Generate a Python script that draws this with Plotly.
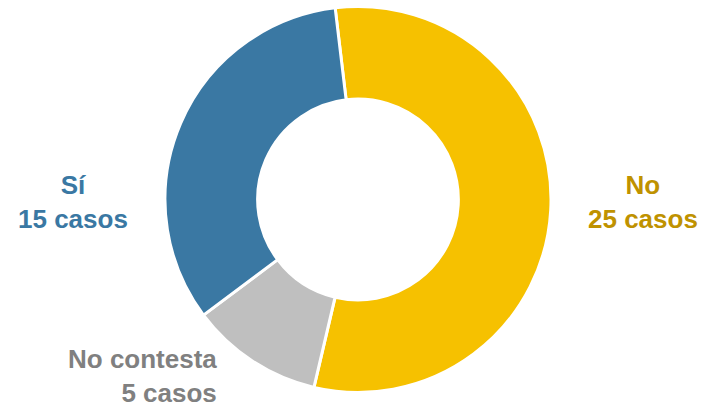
import plotly.graph_objects as go

labels = ["No", "No contesta", "Sí"]
values = [25, 5, 15]
slice_colors = ["#F6C100", "#BFBFBF", "#3A78A3"]
text_colors = ["#BF9200", "#808080", "#3A78A3"]

W, H = 715, 406

fig = go.Figure(go.Pie(
    labels=labels,
    values=values,
    sort=False,
    direction="clockwise",
    rotation=-6.8,
    hole=0.52,
    marker=dict(colors=slice_colors, line=dict(color="white", width=3)),
    textinfo="none",
    hoverinfo="label+value",
    showlegend=False,
    domain=dict(x=[165 / W, 551 / W], y=[(H - 392.5) / H, (H - 6.5) / H]),
))

# label placement (pixel positions), text built from the data
label_pos = {
    "No": dict(x=643, y=202, xanchor="center", align="center"),
    "No contesta": dict(x=219, y=376, xanchor="right", align="right"),
    "Sí": dict(x=73, y=202, xanchor="center", align="center"),
}

for lab, val, col in zip(labels, values, text_colors):
    p = label_pos[lab]
    fig.add_annotation(
        x=p["x"] / W, y=1 - p["y"] / H, xref="paper", yref="paper",
        text=f"<b>{lab}<br>{val} casos</b>",
        showarrow=False, xanchor=p["xanchor"], yanchor="middle", align=p["align"],
        font=dict(family="Liberation Sans, Arial, sans-serif", size=26, color=col),
    )

fig.update_layout(
    width=W, height=H,
    margin=dict(l=0, r=0, t=0, b=0),
    paper_bgcolor="white", plot_bgcolor="white",
)

fig.write_html(
    "out.html",
    config={"displayModeBar": False},
    post_script="document.body.style.margin='0';document.body.style.padding='0';",
)
